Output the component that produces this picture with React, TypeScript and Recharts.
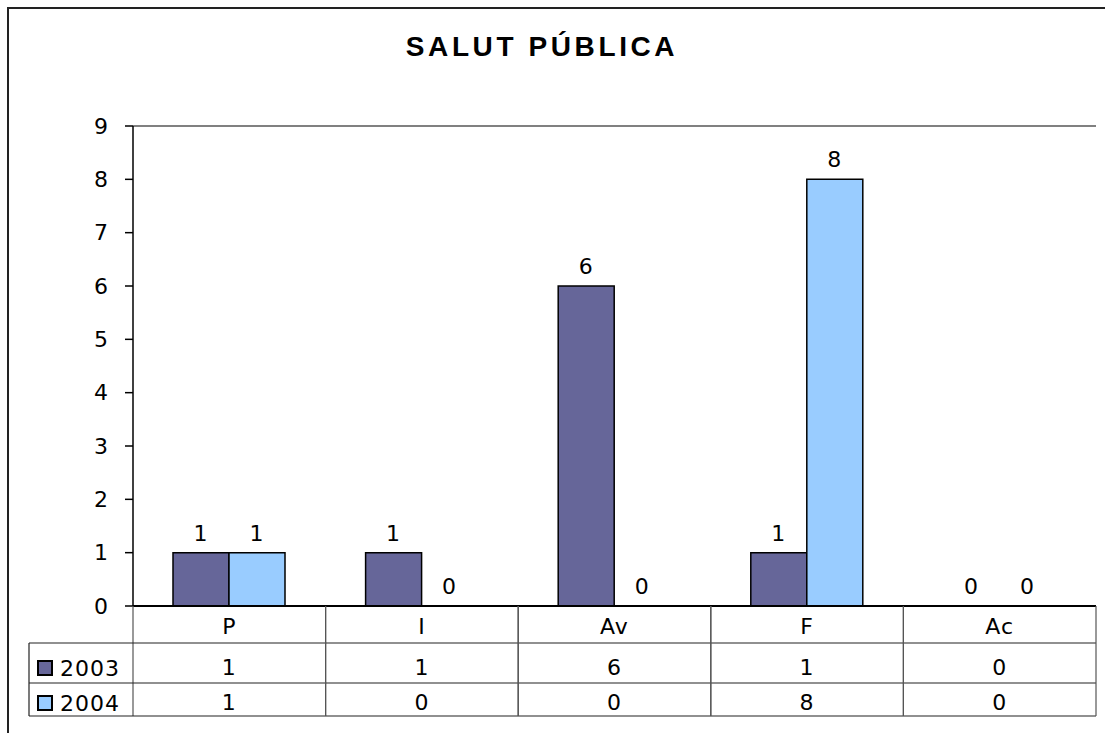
import { BarChart, Bar, XAxis, YAxis, ReferenceLine, LabelList } from 'recharts';

const categories = ['P', 'I', 'Av', 'F', 'Ac'];
const series2003 = [1, 1, 6, 1, 0];
const series2004 = [1, 0, 0, 8, 0];
const yTicks = [0, 1, 2, 3, 4, 5, 6, 7, 8, 9];

const COLOR_2003 = '#666699';
const COLOR_2004 = '#99CCFF';
const FONT = '"DejaVu Sans", Verdana, sans-serif';
const FS = 22;

const data = categories.map((c, i) => ({ cat: c, y2003: series2003[i], y2004: series2004[i] }));

// value label above each bar, drawn also for zero bars
const renderValue = (props: any) => {
    const { x, y, width, height, value } = props;
    if (x == null || value == null) return null;
    const top = Math.min(y, y + (height || 0));
    return (
        <text x={x + width / 2} y={top - 12} textAnchor="middle" fill="#000" style={{ fontSize: FS, fontFamily: FONT, letterSpacing: 1 }}>
            {value}
        </text>
    );
};

// x axis ticks draw the data table under the plot
const TableTick = (props: any) => {
    const { x, y, payload, index } = props;
    const half = payload && payload.offset ? payload.offset : 96.5;
    const left = x - half;
    const right = x + half;
    const textStyle = { fontFamily: FONT, fontSize: FS, letterSpacing: 1 };
    const tableRight = left + categories.length * half * 2 - index * half * 2;
    return (
        <g>
            <line x1={left} x2={left} y1={y} y2={y + 110} stroke="#555" strokeWidth={1.2} />
            <line x1={right} x2={right} y1={y} y2={y + 110} stroke="#555" strokeWidth={1.2} />
            <text x={x} y={y + 20} textAnchor="middle" dominantBaseline="central" fill="#000" style={textStyle}>{payload.value}</text>
            <text x={x} y={y + 61} textAnchor="middle" dominantBaseline="central" fill="#000" style={textStyle}>{series2003[index]}</text>
            <text x={x} y={y + 96} textAnchor="middle" dominantBaseline="central" fill="#000" style={textStyle}>{series2004[index]}</text>
            {index === 0 && (
                <g>
                    <line x1={left - 104} x2={tableRight} y1={y + 37} y2={y + 37} stroke="#222" strokeWidth={1.2} />
                    <line x1={left - 104} x2={tableRight} y1={y + 77} y2={y + 77} stroke="#222" strokeWidth={1.2} />
                    <line x1={left - 104} x2={tableRight} y1={y + 110} y2={y + 110} stroke="#222" strokeWidth={1.2} />
                    <line x1={left - 104} x2={left - 104} y1={y + 37} y2={y + 110} stroke="#222" strokeWidth={1.2} />
                    <rect x={left - 95} y={y + 55} width={14} height={14} fill={COLOR_2003} stroke="#000" strokeWidth={2} />
                    <text x={left - 73} y={y + 62} dominantBaseline="central" fill="#000" style={textStyle}>2003</text>
                    <rect x={left - 95} y={y + 90} width={14} height={14} fill={COLOR_2004} stroke="#000" strokeWidth={2} />
                    <text x={left - 73} y={y + 97} dominantBaseline="central" fill="#000" style={textStyle}>2004</text>
                </g>
            )}
        </g>
    );
};

export default function App() {
    return (
        <div style={{ position: 'absolute', left: 0, top: 0, width: 1105, height: 733, overflow: 'hidden', background: '#fff' }}>
            <div style={{ position: 'absolute', left: 7, top: 7, width: 1200, height: 800, borderTop: '2px solid #222', borderLeft: '2px solid #222' }} />
            <div style={{ position: 'absolute', left: 0, top: 31, width: 1084, textAlign: 'center', fontFamily: '"Liberation Sans", Arial, sans-serif', fontWeight: 700, fontSize: 28, letterSpacing: 3.6, color: '#000' }}>
                SALUT PÚBLICA
            </div>
            <div style={{ position: 'absolute', left: 0, top: 0 }}>
                <BarChart
                    width={1105}
                    height={733}
                    data={data}
                    margin={{ top: 126, right: 9, bottom: 17, left: 83 }}
                    barSize={56}
                    barGap={0}
                >
                    <ReferenceLine y={9} stroke="#808080" strokeWidth={2} />
                    <XAxis
                        dataKey="cat"
                        height={110}
                        tickSize={0}
                        tickMargin={0}
                        interval={0}
                        axisLine={{ stroke: '#000', strokeWidth: 2 }}
                        tickLine={false}
                        tick={<TableTick />}
                    />
                    <YAxis
                        width={50}
                        domain={[0, 9]}
                        ticks={yTicks}
                        interval={0}
                        tickSize={8}
                        tickMargin={17}
                        axisLine={{ stroke: '#000', strokeWidth: 1.5 }}
                        tickLine={{ stroke: '#000', strokeWidth: 1.5 }}
                        tick={{ fill: '#000', fontSize: FS, fontFamily: FONT }}
                    />
                    <YAxis
                        yAxisId="right"
                        orientation="right"
                        width={0}
                        domain={[0, 9]}
                        tick={false}
                        tickLine={false}
                        axisLine={{ stroke: '#808080', strokeWidth: 2 }}
                    />
                    <Bar dataKey="y2003" name="2003" fill={COLOR_2003} stroke="#000" strokeWidth={1.5} minPointSize={0.01} isAnimationActive={false}>
                        <LabelList dataKey="y2003" content={renderValue} />
                    </Bar>
                    <Bar dataKey="y2004" name="2004" fill={COLOR_2004} stroke="#000" strokeWidth={1.5} minPointSize={0.01} isAnimationActive={false}>
                        <LabelList dataKey="y2004" content={renderValue} />
                    </Bar>
                </BarChart>
            </div>
        </div>
    );
}
